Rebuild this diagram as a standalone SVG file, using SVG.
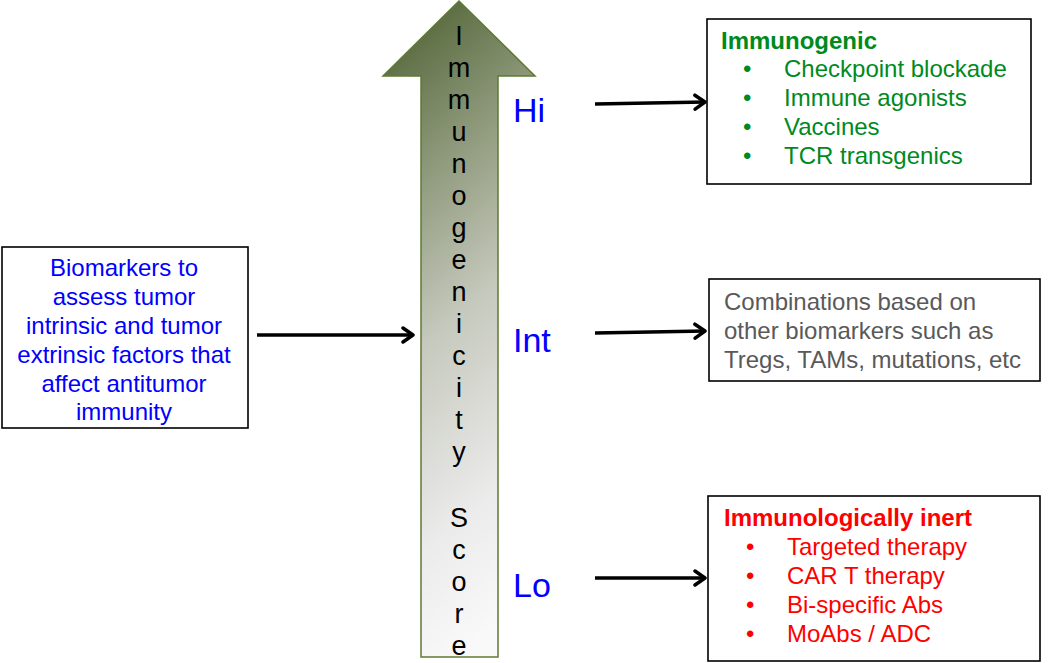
<svg xmlns="http://www.w3.org/2000/svg" width="1050" height="663" viewBox="0 0 1050 663">
<style>
text{font-family:"Liberation Sans",Arial,sans-serif;font-size:24px}
.box{fill:#fff;stroke:#000;stroke-width:1.6}
.blue{fill:#0000ff;text-anchor:middle}
.green{fill:#008a1e}
.red{fill:#ff0000}
.grey{fill:#595959}
.lvl{fill:#0000ff;font-size:34px}
.vt{fill:#000;font-size:27px;text-anchor:middle}
.conn{stroke:#000;stroke-width:3.5;fill:none;marker-end:url(#arr)}
.b{font-weight:bold}
</style>
<defs>
<linearGradient id="g" x1="0.3" y1="0" x2="0.5" y2="1">
<stop offset="0" stop-color="#55673a"/>
<stop offset="0.25" stop-color="#8f9a7c"/>
<stop offset="0.5" stop-color="#c6c9bd"/>
<stop offset="0.8" stop-color="#ebebeb"/>
<stop offset="1" stop-color="#f9f9f9"/>
</linearGradient>
<marker id="arr" viewBox="0 0 14 18" refX="12" refY="9" markerWidth="14" markerHeight="18" markerUnits="userSpaceOnUse" orient="auto">
<path d="M2,2 L12,9 L2,16" fill="none" stroke="#000" stroke-width="3.5" stroke-linecap="round" stroke-linejoin="round"/>
</marker>
</defs>
<g id="score-arrow">
<polygon points="459,1 535,76 498,76 498,657 421,657 421,76 383,76" fill="url(#g)" stroke="#5f7a33" stroke-width="1.5"/>
<text class="vt" x="459" y="45">I</text>
<text class="vt" x="459" y="77">m</text>
<text class="vt" x="459" y="109">m</text>
<text class="vt" x="459" y="141">u</text>
<text class="vt" x="459" y="173">n</text>
<text class="vt" x="459" y="205">o</text>
<text class="vt" x="459" y="237">g</text>
<text class="vt" x="459" y="269">e</text>
<text class="vt" x="459" y="301">n</text>
<text class="vt" x="459" y="333">i</text>
<text class="vt" x="459" y="365">c</text>
<text class="vt" x="459" y="397">i</text>
<text class="vt" x="459" y="429">t</text>
<text class="vt" x="459" y="461">y</text>
<text class="vt" x="459" y="527">S</text>
<text class="vt" x="459" y="559">c</text>
<text class="vt" x="459" y="591">o</text>
<text class="vt" x="459" y="623">r</text>
<text class="vt" x="459" y="655">e</text>
</g>
<g id="levels">
<text class="lvl" x="513" y="122">Hi</text>
<text class="lvl" x="513" y="352">Int</text>
<text class="lvl" x="513" y="597">Lo</text>
</g>
<g id="biomarkers">
<rect class="box" x="2" y="247" width="246" height="181"/>
<text class="blue" x="124" y="276">Biomarkers to</text>
<text class="blue" x="124" y="305">assess tumor</text>
<text class="blue" x="124" y="334">intrinsic and tumor</text>
<text class="blue" x="124" y="363">extrinsic factors that</text>
<text class="blue" x="124" y="392">affect antitumor</text>
<text class="blue" x="124" y="420">immunity</text>
</g>
<g id="immunogenic">
<rect class="box" x="707" y="19" width="324" height="165"/>
<text class="green b" x="721" y="49">Immunogenic</text>
<text class="green" x="743" y="77">•</text><text class="green" x="784" y="77">Checkpoint blockade</text>
<text class="green" x="743" y="106">•</text><text class="green" x="784" y="106">Immune agonists</text>
<text class="green" x="743" y="135">•</text><text class="green" x="784" y="135">Vaccines</text>
<text class="green" x="743" y="164">•</text><text class="green" x="784" y="164">TCR transgenics</text>
</g>
<g id="combinations">
<rect class="box" x="709" y="279" width="331" height="102" stroke="#333"/>
<text class="grey" x="724" y="310">Combinations based on</text>
<text class="grey" x="724" y="339">other biomarkers such as</text>
<text class="grey" x="724" y="368">Tregs, TAMs, mutations, etc</text>
</g>
<g id="inert">
<rect class="box" x="708" y="496" width="332" height="165"/>
<text class="red b" x="724" y="526">Immunologically inert</text>
<text class="red" x="746" y="555">•</text><text class="red" x="787" y="555">Targeted therapy</text>
<text class="red" x="746" y="584">•</text><text class="red" x="787" y="584">CAR T therapy</text>
<text class="red" x="746" y="613">•</text><text class="red" x="787" y="613">Bi-specific Abs</text>
<text class="red" x="746" y="642">•</text><text class="red" x="787" y="642">MoAbs / ADC</text>
</g>
<g id="connectors">
<line class="conn" x1="257" y1="335" x2="413" y2="335"/>
<line class="conn" x1="595" y1="104" x2="705" y2="102"/>
<line class="conn" x1="595" y1="333" x2="705" y2="331"/>
<line class="conn" x1="595" y1="578" x2="705" y2="578"/>
</g>
</svg>
